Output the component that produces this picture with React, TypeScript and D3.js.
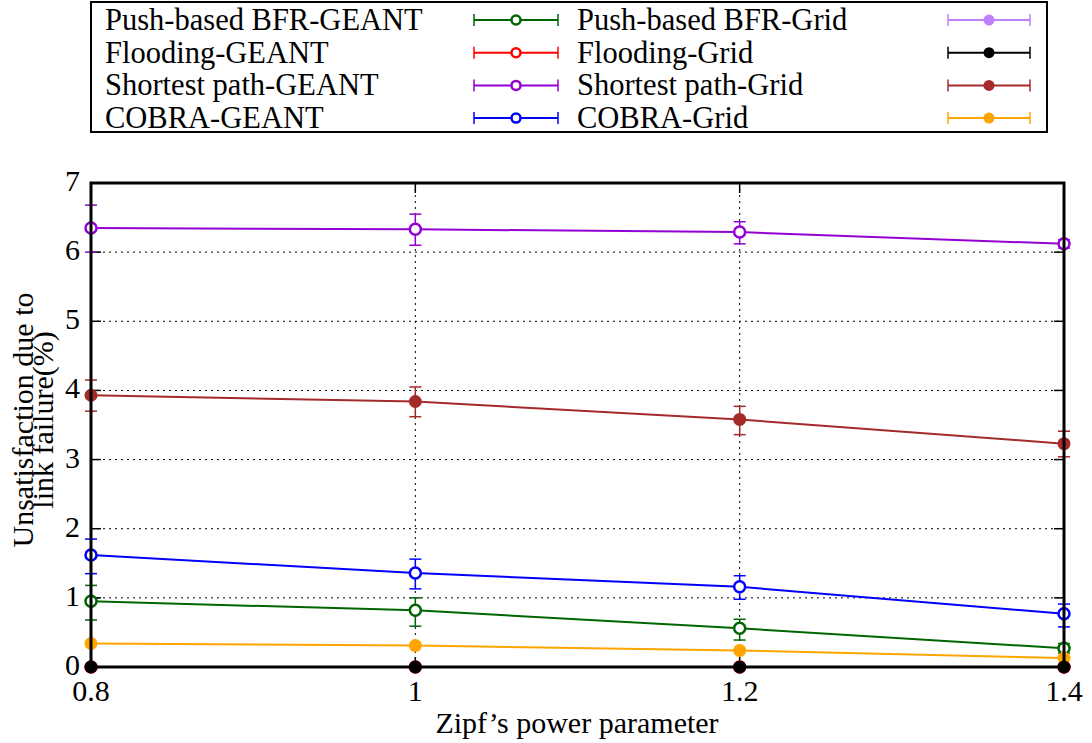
import React from "react";
import * as d3 from "d3";

// Zipf power values on the x axis
const zipf = [0.8, 1.0, 1.2, 1.4];

// Mean unsatisfaction (%) per series
const pushGeant = [0.95, 0.82, 0.56, 0.27];
const floodGeant = [0, 0, 0, 0];
const shortestGeant = [6.35, 6.33, 6.29, 6.12];
const cobraGeant = [1.62, 1.36, 1.16, 0.77];
const pushGrid = [0, 0, 0, 0];
const floodGrid = [0, 0, 0, 0];
const shortestGrid = [3.93, 3.84, 3.58, 3.23];
const cobraGrid = [0.34, 0.31, 0.24, 0.13];

// Error bar lower / upper bounds
const pushGeantLo = [0.68, 0.59, 0.39, 0.2];
const pushGeantHi = [1.18, 1.0, 0.69, 0.34];
const shortestGeantLo = [6.0, 6.1, 6.12, 6.06];
const shortestGeantHi = [6.68, 6.55, 6.44, 6.18];
const cobraGeantLo = [1.35, 1.13, 0.98, 0.58];
const cobraGeantHi = [1.85, 1.56, 1.32, 0.91];
const shortestGridLo = [3.7, 3.62, 3.36, 3.04];
const shortestGridHi = [4.15, 4.05, 3.77, 3.41];

const yTicks = [0, 1, 2, 3, 4, 5, 6, 7];
const xTicks = [0.8, 1, 1.2, 1.4];

type Series = {
  name: string;
  color: string;
  values: number[];
  lo?: number[];
  hi?: number[];
  filled: boolean;
};

const series: Series[] = [
  { name: "Push-based BFR-GEANT", color: "#006400", values: pushGeant, lo: pushGeantLo, hi: pushGeantHi, filled: false },
  { name: "Flooding-GEANT", color: "#ff0000", values: floodGeant, filled: false },
  { name: "Shortest path-GEANT", color: "#9400d3", values: shortestGeant, lo: shortestGeantLo, hi: shortestGeantHi, filled: false },
  { name: "COBRA-GEANT", color: "#0000ff", values: cobraGeant, lo: cobraGeantLo, hi: cobraGeantHi, filled: false },
  { name: "Push-based BFR-Grid", color: "#c080ff", values: pushGrid, filled: true },
  { name: "Flooding-Grid", color: "#000000", values: floodGrid, filled: true },
  { name: "Shortest path-Grid", color: "#a52a2a", values: shortestGrid, lo: shortestGridLo, hi: shortestGridHi, filled: true },
  { name: "COBRA-Grid", color: "#ffa500", values: cobraGrid, filled: true },
];

// draw order: zero-valued series first so Flooding-Grid ends up on top
const drawOrder = [4, 1, 0, 7, 3, 6, 2, 5];

const W = 1092;
const H = 743;
const left = 91;
const right = 1064;
const top = 183;
const bottom = 667;

export default function App() {
  const x = d3.scaleLinear().domain([0.8, 1.4]).range([left, right]);
  const y = d3.scaleLinear().domain([0, 7]).range([bottom, top]);
  const line = d3
    .line<number>()
    .x((_, i) => x(zipf[i]))
    .y((d) => y(d));
  const font = "'Liberation Serif', 'Times New Roman', serif";
  const fs = 30;

  return (
    <svg
      width={W}
      height={H}
      style={{ position: "absolute", left: 0, top: 0, background: "#fff" }}
      fontFamily={font}
    >
      <defs>
        <clipPath id="plotClip">
          <rect x={left - 8} y={top - 30} width={right - left + 16} height={bottom - top + 38} />
        </clipPath>
      </defs>
      {/* legend */}
      <rect x={91} y={2} width={956} height={130} fill="none" stroke="#000" strokeWidth={2} />
      {series.map((s, i) => {
        const col = i < 4 ? 0 : 1;
        const row = i % 4;
        const ty = 20 + row * 32.7;
        const tx = col === 0 ? 105 : 577;
        const lx1 = col === 0 ? 474 : 948;
        const lx2 = col === 0 ? 558 : 1030;
        const mx = (lx1 + lx2) / 2;
        return (
          <g key={s.name}>
            <text x={tx} y={ty + 10} fontSize={30.5} fill="#000">
              {s.name}
            </text>
            <line x1={lx1} x2={lx2} y1={ty} y2={ty} stroke={s.color} strokeWidth={2} />
            <line x1={lx1} x2={lx1} y1={ty - 6} y2={ty + 6} stroke={s.color} strokeWidth={1.5} />
            <line x1={lx2} x2={lx2} y1={ty - 6} y2={ty + 6} stroke={s.color} strokeWidth={1.5} />
            {s.filled ? (
              <circle cx={mx} cy={ty} r={5.5} fill={s.color} />
            ) : (
              <circle cx={mx} cy={ty} r={4.5} fill="#fff" stroke={s.color} strokeWidth={2.5} />
            )}
          </g>
        );
      })}

      {/* grid */}
      {yTicks
        .filter((t) => t > 0 && t < 7)
        .map((t) => (
          <line key={"gy" + t} x1={left} x2={right} y1={y(t)} y2={y(t)} stroke="#000" strokeWidth={1} strokeDasharray="2,4" />
        ))}
      {xTicks
        .filter((t) => t > 0.8 && t < 1.4)
        .map((t) => (
          <line key={"gx" + t} x1={x(t)} x2={x(t)} y1={top} y2={bottom} stroke="#000" strokeWidth={1} strokeDasharray="2,4" />
        ))}

      {/* ticks */}
      {yTicks.map((t) => (
        <g key={"ty" + t}>
          <line x1={left} x2={left + 10} y1={y(t)} y2={y(t)} stroke="#000" strokeWidth={1.5} />
          <line x1={right - 10} x2={right} y1={y(t)} y2={y(t)} stroke="#000" strokeWidth={1.5} />
          <text x={left - 11} y={y(t) + 8} fontSize={fs} textAnchor="end" fill="#000">
            {t}
          </text>
        </g>
      ))}
      {xTicks.map((t) => (
        <g key={"tx" + t}>
          <line x1={x(t)} x2={x(t)} y1={bottom} y2={bottom - 10} stroke="#000" strokeWidth={1.5} />
          <line x1={x(t)} x2={x(t)} y1={top} y2={top + 10} stroke="#000" strokeWidth={1.5} />
          <text x={x(t)} y={bottom + 34} fontSize={fs} textAnchor="middle" fill="#000">
            {t}
          </text>
        </g>
      ))}

      {/* series */}
      <g clipPath="url(#plotClip)">
        {drawOrder.map((idx) => {
          const s = series[idx];
          return (
            <g key={s.name}>
              <path d={line(s.values) || ""} fill="none" stroke={s.color} strokeWidth={2} />
              {s.lo &&
                s.hi &&
                s.values.map((_, i) => {
                  const cx = x(zipf[i]);
                  const y1 = y(s.lo![i]);
                  const y2 = y(s.hi![i]);
                  return (
                    <g key={i}>
                      <line x1={cx} x2={cx} y1={y1} y2={y2} stroke={s.color} strokeWidth={1.5} />
                      <line x1={cx - 6} x2={cx + 6} y1={y1} y2={y1} stroke={s.color} strokeWidth={1.5} />
                      <line x1={cx - 6} x2={cx + 6} y1={y2} y2={y2} stroke={s.color} strokeWidth={1.5} />
                    </g>
                  );
                })}
              {s.values.map((v, i) =>
                s.filled ? (
                  <circle key={"p" + i} cx={x(zipf[i])} cy={y(v)} r={6.5} fill={s.color} />
                ) : (
                  <circle key={"p" + i} cx={x(zipf[i])} cy={y(v)} r={5.5} fill="#fff" stroke={s.color} strokeWidth={2.5} />
                )
              )}
            </g>
          );
        })}
      </g>

      {/* frame */}
      <rect x={left} y={top} width={right - left} height={bottom - top} fill="none" stroke="#000" strokeWidth={3} />

      {/* axis titles */}
      <text x={577} y={733} fontSize={fs} textAnchor="middle" fill="#000">
        Zipf’s power parameter
      </text>
      <g transform={`translate(33, 420) rotate(-90)`}>
        <text x={0} y={0} fontSize={fs} textAnchor="middle" fill="#000">
          Unsatisfaction due to
        </text>
        <text x={0} y={20} fontSize={fs} textAnchor="middle" fill="#000">
          link failure(%)
        </text>
      </g>
    </svg>
  );
}
